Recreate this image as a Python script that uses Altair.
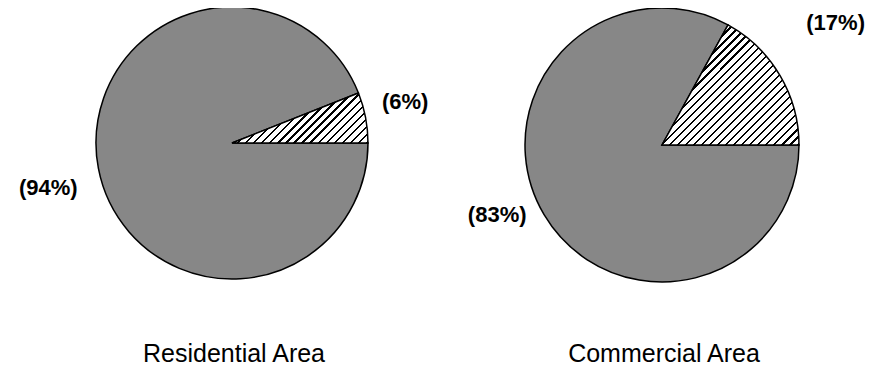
import math
import altair as alt
import pandas as pd

# ---- data ----
pies = ["Residential Area", "Commercial Area"]
slice_kinds = ["dotted", "hatched"]
residential_pct = [94, 6]
commercial_pct = [83, 17]
pct_labels = {"Residential Area": ["(94%)", "(6%)"], "Commercial Area": ["(83%)", "(17%)"]}

rows = []
for pie, vals in zip(pies, [residential_pct, commercial_pct]):
    for i, (kind, v) in enumerate(zip(slice_kinds, vals)):
        rows.append({"pie": pie, "kind": kind, "value": v, "idx": i, "label": pct_labels[pie][i]})
df = pd.DataFrame(rows)

# ---- styling / layout ----
GRAY = "#878787"
FONT = "Liberation Sans"
style = {
    "Residential Area": dict(cx=224, cy=135, r=136, gx=1.205, gy=0.443, n=23, title_x=226,
                             lab={"dotted": (189, -0.05), "hatched": (178, -0.044)}),
    "Commercial Area": dict(cx=654, cy=137, r=137, gx=1.062, gy=0.930, n=32, title_x=656,
                            lab={"dotted": (179, 0.133), "hatched": (212, -0.077)}),
}


def stripes(n, frac=0.3):
    stops = []
    for i in range(n):
        a = i / n
        b = (i + 1 - frac) / n
        c = (i + 1) / n
        stops += [
            alt.GradientStop(offset=a, color="white"),
            alt.GradientStop(offset=b, color="white"),
            alt.GradientStop(offset=b, color="black"),
            alt.GradientStop(offset=c, color="black"),
        ]
    return stops


theta_scale = alt.Scale(domain=[0, 100], range=[-1.5 * math.pi, 0.5 * math.pi])

base = alt.Chart(df).transform_stack(
    stack="value", groupby=["pie"], as_=["v0", "v1"], sort=[alt.SortField("idx")]
).transform_calculate(mid="(datum.v0 + datum.v1) / 2")

layers = []
for pie in pies:
    s = style[pie]
    pbase = base.transform_filter(alt.datum.pie == pie)
    # dotted (gray) slice
    layers.append(
        pbase.transform_filter(alt.datum.kind == "dotted").mark_arc(
            x=s["cx"], y=s["cy"], radius=s["r"], fill=GRAY, stroke="black", strokeWidth=1.5
        ).encode(theta=alt.Theta("v0:Q", scale=theta_scale), theta2="v1:Q")
    )
    # hatched slice
    grad = alt.LinearGradient(gradient="linear", stops=stripes(s["n"]), x1=0, y1=0, x2=s["gx"], y2=s["gy"])
    layers.append(
        pbase.transform_filter(alt.datum.kind == "hatched").mark_arc(
            x=s["cx"], y=s["cy"], radius=s["r"], fill=grad, stroke="black", strokeWidth=1.5
        ).encode(theta=alt.Theta("v0:Q", scale=theta_scale), theta2="v1:Q")
    )
    # percentage labels
    for kind in slice_kinds:
        rr, toff = s["lab"][kind]
        layers.append(
            pbase.transform_filter(alt.datum.kind == kind).mark_text(
                x=s["cx"], y=s["cy"], radius=rr, thetaOffset=toff, font=FONT, fontSize=22,
                fontWeight="bold", align="center", baseline="middle", color="black"
            ).encode(theta=alt.Theta("mid:Q", scale=theta_scale), text="label:N")
        )
    # pie title
    layers.append(
        alt.Chart(pd.DataFrame({"pie": [pie]})).mark_text(
            x=s["title_x"], y=354, font=FONT, fontSize=25, align="center",
            baseline="alphabetic", color="black"
        ).encode(text="pie:N")
    )

chart = alt.layer(*layers).properties(
    width=860, height=369, padding=0, autosize=alt.AutoSizeParams(type="none")
).configure_view(stroke=None).configure(background="white")

chart.save("out.html", embed_options={"renderer": "svg", "actions": False})
